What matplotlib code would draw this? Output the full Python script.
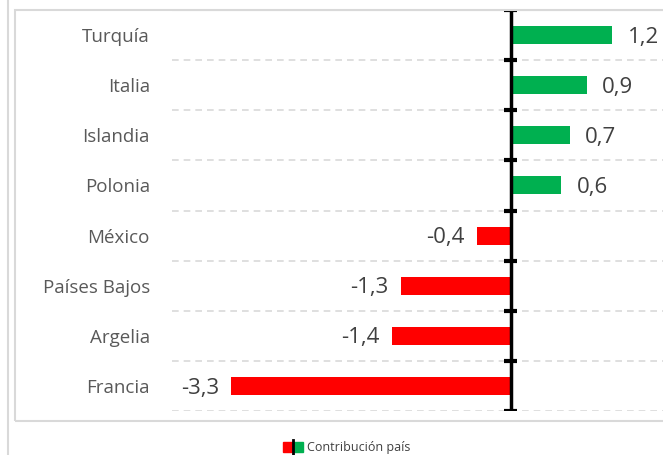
import matplotlib.pyplot as plt
from matplotlib.patches import Rectangle
from matplotlib.lines import Line2D

plt.rcParams['font.family'] = ['Open Sans', 'DejaVu Sans']

paises = ["Turquía", "Italia", "Islandia", "Polonia", "México",
          "Países Bajos", "Argelia", "Francia"]
valores = [1.2, 0.9, 0.7, 0.6, -0.4, -1.3, -1.4, -3.3]
etiquetas = ["1,2", "0,9", "0,7", "0,6", "-0,4", "-1,3", "-1,4", "-3,3"]

VERDE = "#00B050"
ROJO = "#FF0000"

fig = plt.figure(figsize=(6.63, 4.55), dpi=100)
W, H = 663, 455

# marcos (borde exterior y área del gráfico)
fig.add_artist(Line2D([7.5 / W, 7.5 / W], [0, 1], color="#D9D9D9", lw=1.5))
fig.add_artist(Rectangle((15 / W, 1 - 421 / H), 1.0, (421 - 10) / H,
                         fill=False, ec="#D9D9D9", lw=1.5))

ax = fig.add_axes([172 / W, 1 - 411 / H, 1 - 172 / W, (411 - 10) / H])
n = len(paises)
y = list(range(n))
colores = [VERDE if v > 0 else ROJO for v in valores]
ax.barh(y, valores, height=0.36, color=colores, zorder=2)

ax.set_xlim(-4, 1.8)
ax.set_ylim(n - 0.5, -0.5)
for s in ax.spines.values():
    s.set_visible(False)
ax.set_xticks([])
ax.set_yticks(y)
ax.set_yticklabels(paises, fontsize=13.5, color="#595959")
ax.tick_params(axis="y", length=0, pad=16)

# líneas de división entre categorías
for b in range(n + 1):
    yy = b - 0.5
    if b == 0:
        ax.axhline(yy, color="#D9D9D9", lw=1.5, zorder=1)
    else:
        ax.axhline(yy, color="#D9D9D9", lw=1.2, ls=(0, (4, 3)), zorder=1)
    ax.plot([-0.08, 0.08], [yy, yy], color="black", lw=3, zorder=4,
            solid_capstyle="butt")

ax.axvline(0, color="black", lw=2.5, zorder=3)

for yi, v, t in zip(y, valores, etiquetas):
    if v > 0:
        ax.annotate(t, (v, yi), xytext=(11, -1.5), textcoords="offset points",
                    ha="left", va="center", fontsize=16, color="#404040")
    else:
        ax.annotate(t, (v, yi), xytext=(-9, -1.5), textcoords="offset points",
                    ha="right", va="center", fontsize=16, color="#404040")

# leyenda
fig.add_artist(Rectangle((283 / W, 1 - 452 / H), 10 / W, 10 / H,
                         color=ROJO, transform=fig.transFigure))
fig.add_artist(Rectangle((293 / W, 1 - 452 / H), 10 / W, 10 / H,
                         color=VERDE, transform=fig.transFigure))
fig.add_artist(Line2D([293 / W, 293 / W], [1 - 454 / H, 1 - 440 / H],
                      color="black", lw=2))
fig.text(307 / W, 1 - 447 / H, "Contribución país", fontsize=9,
         color="#404040", va="center", ha="left")

fig.savefig("out.png", dpi=100)
